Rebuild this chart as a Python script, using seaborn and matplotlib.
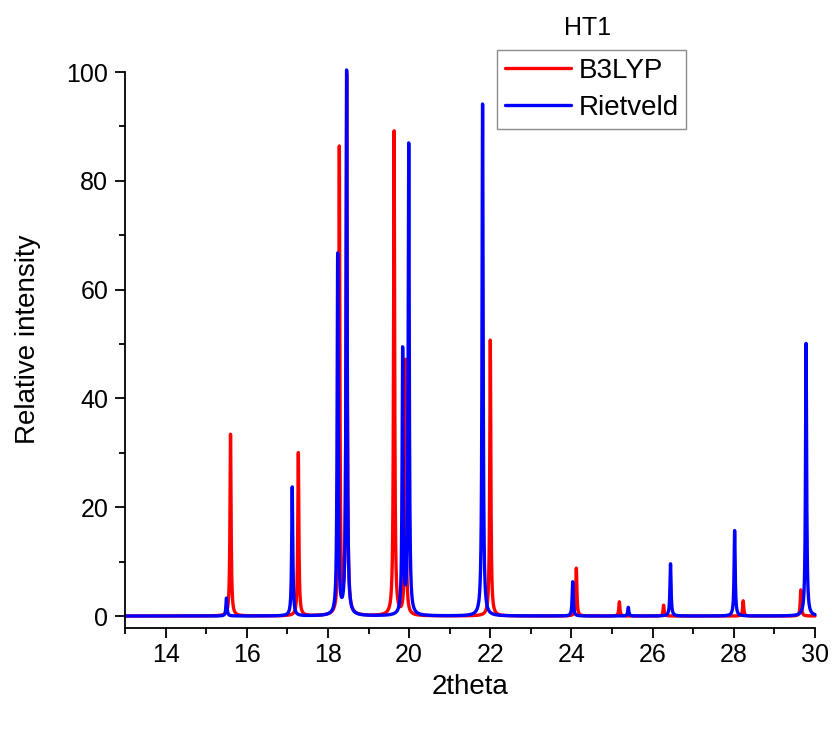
import numpy as np
import pandas as pd
import matplotlib
matplotlib.use("Agg")
import matplotlib.pyplot as plt
import seaborn as sns
from matplotlib.ticker import MultipleLocator

# Peak lists (2theta position, relative intensity)
b3lyp_pos = [15.60, 17.27, 18.28, 18.46, 19.63, 19.91, 22.00, 24.12, 25.18, 26.27, 28.23, 29.65]
b3lyp_int = [33.4, 30.0, 85.6, 99.0, 89.0, 46.9, 50.7, 8.8, 2.6, 2.0, 2.8, 4.8]
riet_pos = [15.50, 17.12, 18.24, 18.46, 19.84, 19.99, 21.81, 24.03, 25.40, 26.44, 28.02, 29.78]
riet_int = [3.3, 23.7, 66.2, 100.0, 48.5, 86.4, 94.1, 6.3, 1.6, 9.6, 15.7, 50.1]
series_names = ["B3LYP", "Rietveld"]
series_colors = ["#ff0000", "#0000ff"]
title_text = "HT1"
x_label = "2theta"
y_label = "Relative intensity"

hwhm = 0.016
grid = np.arange(13.0, 30.0001, 0.002)

def profile(pos, inten):
    y = np.zeros_like(grid)
    for p, h in zip(pos, inten):
        y += h / (1.0 + ((grid - p) / hwhm) ** 2)
    return y

df = pd.concat([
    pd.DataFrame({"x": grid, "y": profile(b3lyp_pos, b3lyp_int), "series": series_names[0]}),
    pd.DataFrame({"x": grid, "y": profile(riet_pos, riet_int), "series": series_names[1]}),
])

sns.set_style("ticks")
plt.rcParams["font.family"] = ["Liberation Sans", "DejaVu Sans"]
plt.rcParams["text.color"] = "black"
plt.rcParams["axes.labelcolor"] = "black"
plt.rcParams["xtick.color"] = "black"
plt.rcParams["ytick.color"] = "black"

fig = plt.figure(figsize=(8.32, 7.29), dpi=100)
ax = fig.add_axes([125/832, 1-628/729, (815-125)/832, (628-72)/729])

sns.lineplot(data=df, x="x", y="y", hue="series", palette=dict(zip(series_names, series_colors)),
             linewidth=2.4, ax=ax, estimator=None, sort=False)
for ln in ax.lines:
    ln.set_clip_on(False)

ax.set_xlim(13, 30)
ax.set_ylim(-2.2, 100)
ax.xaxis.set_major_locator(MultipleLocator(2))
ax.xaxis.set_minor_locator(MultipleLocator(1))
ax.yaxis.set_major_locator(MultipleLocator(20))
ax.yaxis.set_minor_locator(MultipleLocator(10))
ax.set_xticks(np.arange(14, 31, 2))
ax.tick_params(axis="both", which="major", direction="out", length=7, width=1.3, labelsize=18,
               colors="black")
ax.tick_params(axis="x", which="major", pad=4)
ax.tick_params(axis="y", which="major", pad=5)
ax.tick_params(axis="both", which="minor", direction="out", length=4, width=1.3, colors="black")
for s in ["top", "right"]:
    ax.spines[s].set_visible(False)
for s in ["left", "bottom"]:
    ax.spines[s].set_linewidth(1.3)
    ax.spines[s].set_color("black")

ax.set_xlabel(x_label, fontsize=20, labelpad=5)
ax.set_ylabel(y_label, fontsize=20)
ax.yaxis.set_label_coords(-0.122, 0.52)

handles, labels = ax.get_legend_handles_labels()
leg = ax.legend(handles, labels, loc="upper left", bbox_to_anchor=(497/832, 1-50/729),
                bbox_transform=fig.transFigure, fontsize=20, frameon=True, fancybox=False,
                edgecolor="#707070", handlelength=2.4, handletextpad=0.25, borderpad=0.28,
                labelspacing=0.4, borderaxespad=0)
leg.get_frame().set_linewidth(1.0)
for h in leg.get_lines():
    h.set_linewidth(2.4)

fig.text(588/832, 1-28/729, title_text, fontsize=18, ha="center", va="center")

fig.savefig("out.png", dpi=100)
